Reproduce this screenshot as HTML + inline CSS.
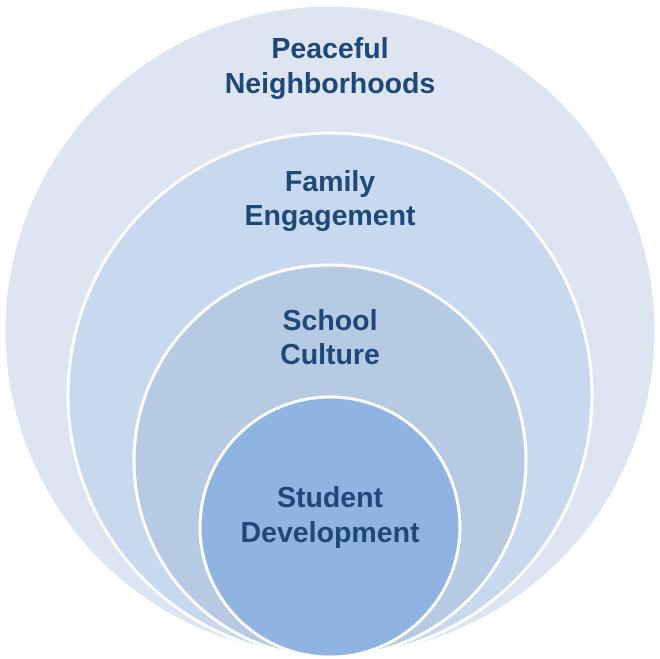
<!DOCTYPE html>
<html><head><meta charset="utf-8"><style>
html,body{margin:0;padding:0;background:#fff;width:660px;height:659px;overflow:hidden}
</style></head><body>
<svg width="660" height="659" viewBox="0 0 660 659" xmlns="http://www.w3.org/2000/svg">
<g stroke="#fff" stroke-width="3">
<circle cx="330" cy="331" r="326" fill="#dce5f1"/>
<circle cx="330" cy="395" r="262" fill="#c7d9ef"/>
<circle cx="330" cy="461" r="196" fill="#b6cae4"/>
<circle cx="330" cy="527" r="130" fill="#8fb4e1"/>
</g>
<g font-family="Liberation Sans, sans-serif" font-weight="bold" font-size="28.5" fill="#1f477a" text-anchor="middle">
<text x="330" y="58">Peaceful</text>
<text x="330" y="93">Neighborhoods</text>
<text x="330" y="191">Family</text>
<text x="330" y="225">Engagement</text>
<text x="330" y="330">School</text>
<text x="330" y="364">Culture</text>
<text x="330" y="507">Student</text>
<text x="330" y="542">Development</text>
</g>
</svg>
</body></html>
